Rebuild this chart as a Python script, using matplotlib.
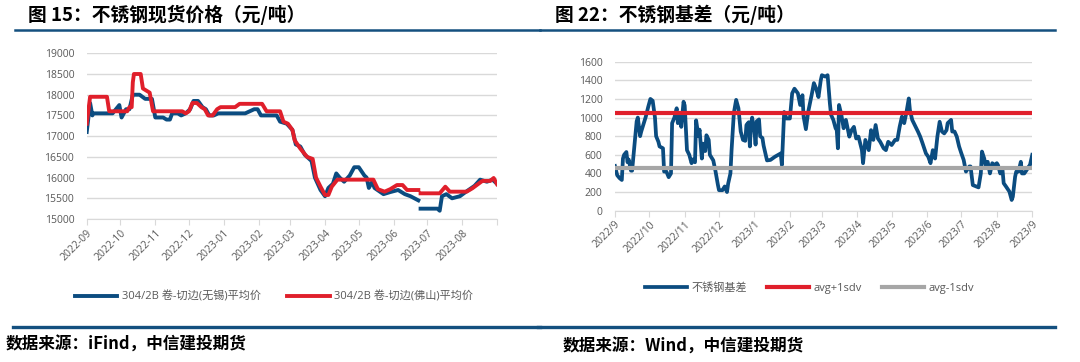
import numpy as np
import pandas as pd
import matplotlib
matplotlib.use("Agg")
import matplotlib.pyplot as plt
from matplotlib.lines import Line2D

plt.rcParams['font.family'] = ['Open Sans', 'Noto Sans CJK SC', 'DejaVu Sans']

nan = np.nan
start = pd.Timestamp('2022-09-01')

# ---- 不锈钢现货价格 (day offset from 2022-09-01, yuan/t) ----
wx_days = [0, 3, 5, 6, 23, 26, 29, 31, 35, 38,
           41, 47, 52, 58, 61, 68, 71, 74, 76, 81,
           84, 88, 92, 95, 99, 103, 106, 109, 113, 117,
           141, 145, 149, 152, 155, 169, 172, 178, 183, 186,
           190, 194, 200, 203, 208, 212, 215, 219, 222, 225,
           229, 234, 238, 242, 247, 249, 251, 254, 256, 264,
           270, 277, 283, 288, 295, 296, 297, 312, 314, 316,
           320, 325, 332, 337, 345, 350, 356, 361, 363, 365]
wx_vals = [17100, 17800, 17500, 17550, 17550, 17650, 17750, 17450, 17650, 17650,
           18000, 18000, 17900, 17900, 17450, 17450, 17400, 17400, 17550, 17550,
           17500, 17550, 17650, 17850, 17850, 17700, 17650, 17500, 17500, 17550,
           17550, 17600, 17650, 17650, 17500, 17500, 17350, 17300, 17150, 16800,
           16750, 16550, 16400, 16000, 15700, 15550, 15750, 15850, 16100, 16000,
           15900, 16050, 16250, 16250, 16050, 16000, 15750, 15900, 15750, 15600,
           15650, 15700, 15600, 15550, 15450, nan, 15250, 15250, 15200, 15550,
           15600, 15500, 15550, 15650, 15800, 15950, 15900, 15950, 15900, 15850]

fs_days = [0, 3, 18, 20, 36, 38, 40, 41, 42, 48,
           50, 53, 56, 59, 85, 88, 91, 94, 98, 102,
           105, 108, 112, 116, 119, 132, 136, 156, 160, 172,
           175, 179, 183, 185, 190, 196, 201, 204, 208, 212,
           215, 218, 223, 255, 259, 265, 270, 276, 281, 285,
           295, 296, 297, 314, 319, 323, 338, 343, 347, 352,
           359, 362, 365]
fs_vals = [17300, 17950, 17950, 17600, 17600, 17700, 17700, 18300, 18500, 18500,
           18150, 18100, 18050, 17600, 17600, 17550, 17600, 17800, 17800, 17700,
           17650, 17500, 17500, 17650, 17700, 17700, 17780, 17780, 17600, 17600,
           17350, 17300, 17150, 16900, 16700, 16500, 16450, 16000, 15780, 15580,
           15580, 15780, 15950, 15950, 15720, 15660, 15720, 15820, 15820, 15700,
           15700, nan, 15620, 15620, 15780, 15660, 15660, 15740, 15820, 15920,
           15920, 15990, 15840]

# ---- 不锈钢基差 (day offset from 2022-09-01) ----
jc_days = [0, 2, 4, 6, 7, 8, 10, 11, 12, 14,
           15, 17, 19, 20, 22, 23, 25, 27, 29, 31,
           33, 35, 36, 38, 39, 42, 43, 45, 47, 49,
           50, 52, 54, 55, 57, 58, 60, 61, 63, 65,
           67, 68, 70, 71, 73, 74, 76, 77, 79, 80,
           82, 83, 86, 88, 90, 91, 94, 96, 98, 99,
           101, 102, 104, 106, 108, 110, 112, 114, 115, 117,
           118, 119, 120, 122, 123, 124, 126, 127, 129, 130,
           133, 136, 140, 145, 146, 148, 150, 153, 155, 157,
           160, 162, 164, 165, 167, 169, 172, 174, 176, 178,
           180, 181, 184, 186, 188, 189, 191, 193, 194, 195,
           196, 198, 200, 202, 205, 207, 209, 211, 213, 216,
           217, 219, 222, 224, 226, 228, 230, 232, 235, 237,
           239, 242, 245, 247, 249, 251, 253, 255, 257, 258,
           260, 263, 265, 267, 269, 272, 274, 276, 278, 280,
           282, 284, 286, 288, 290, 291, 294, 295, 297, 299,
           301, 303, 305, 307, 310, 311, 313, 316, 318, 320,
           321, 323, 324, 326, 328, 330, 332, 334, 335, 337,
           339, 340, 342, 345, 347, 348, 350, 351, 353, 355,
           356, 358, 360, 362, 363, 365]
jc_vals = [480, 380, 350, 330, 560, 600, 630, 520, 550, 430,
           430, 700, 960, 1000, 800, 850, 930, 1010, 1110, 1200,
           1180, 1000, 800, 740, 690, 670, 420, 420, 360, 400,
           940, 1000, 1100, 940, 1050, 900, 1170, 1130, 650, 600,
           510, 550, 520, 970, 800, 870, 560, 720, 640, 810,
           760, 600, 540, 420, 280, 220, 220, 260, 200, 290,
           400, 650, 1050, 1190, 1100, 850, 760, 750, 920, 950,
           690, 920, 1000, 850, 710, 960, 980, 800, 780, 700,
           540, 545, 580, 615, 490, 1060, 990, 990, 1260, 1310,
           1260, 1135, 1240, 1010, 875, 1060, 1240, 1370, 1310, 1220,
           1400, 1455, 1440, 1455, 1150, 1030, 975, 885, 865, 670,
           1135, 1030, 885, 975, 795, 865, 900, 775, 795, 650,
           510, 760, 650, 865, 760, 920, 775, 740, 670, 650,
           740, 705, 760, 760, 900, 1010, 940, 1060, 1205, 1080,
           975, 900, 850, 795, 725, 615, 580, 510, 650, 560,
           795, 955, 850, 830, 865, 940, 975, 850, 850, 795,
           690, 615, 545, 420, 475, 475, 275, 260, 250, 400,
           635, 560, 490, 525, 400, 510, 490, 510, 490, 400,
           435, 295, 260, 205, 115, 150, 365, 420, 420, 525,
           400, 400, 435, 475, 490, 600]
avg_plus = 1045
avg_minus = 455


def to_dates(days):
    return start + pd.to_timedelta(days, unit='D')


BLUE = '#0B4C80'
RED = '#E01F2B'
GREY = '#A6A6A6'
TXT = '#595959'
GRID = '#D9D9D9'
NAVY = '#14507F'

fig = plt.figure(figsize=(10.8, 3.62), dpi=100)

months = pd.date_range('2022-09-01', '2023-09-01', freq='MS')


def style_axes(ax):
    for s in ['left', 'right', 'top']:
        ax.spines[s].set_visible(False)
    ax.spines['bottom'].set_color(GRID)
    ax.grid(axis='y', color=GRID, linewidth=1.0)
    ax.set_axisbelow(True)
    ax.tick_params(axis='y', length=0, pad=9, labelsize=7.5, labelcolor=TXT)
    ax.tick_params(axis='x', length=4, color=GRID, labelsize=7.5,
                   labelcolor=TXT, pad=2)
    ax.set_xlim(months[0], months[-1])
    ax.set_xticks(months)


# ---------------- left panel ----------------
ax1 = fig.add_axes([0.0803, 0.395, 0.3799, 0.4578])
ax1.plot(to_dates(wx_days), wx_vals, color=BLUE, lw=2.8,
         label='304/2B 卷-切边(无锡)平均价')
ax1.plot(to_dates(fs_days), fs_vals, color=RED, lw=2.8,
         label='304/2B 卷-切边(佛山)平均价')
style_axes(ax1)
ax1.set_ylim(15000, 19000)
ax1.set_yticks(np.arange(15000, 19001, 500))
ax1.set_xticklabels([m.strftime('%Y-%m') for m in months[:-1]] + [''],
                    rotation=45, ha='right', rotation_mode='anchor')
ax1.legend(loc='center', bbox_to_anchor=(0.2537, 0.18), bbox_transform=fig.transFigure,
           ncol=2, frameon=False, fontsize=8, labelcolor=TXT,
           handlelength=3.8, handletextpad=0.4, columnspacing=2.4)

# ---------------- right panel ----------------
ax2 = fig.add_axes([0.5694, 0.418, 0.3864, 0.4116])
ax2.plot(to_dates(jc_days), jc_vals, color=BLUE, lw=2.7, label='不锈钢基差')
ax2.plot([months[0], months[-1]], [avg_plus, avg_plus], color=RED, lw=3.0,
         label='avg+1sdv')
ax2.plot([months[0], months[-1]], [avg_minus, avg_minus], color=GREY, lw=3.0,
         label='avg-1sdv')
style_axes(ax2)
ax2.set_ylim(0, 1600)
ax2.set_yticks(np.arange(0, 1601, 200))
ax2.set_xticklabels([f'{m.year}/{m.month}' for m in months],
                    rotation=45, ha='right', rotation_mode='anchor')
ax2.legend(loc='center', bbox_to_anchor=(0.7495, 0.204), bbox_transform=fig.transFigure,
           ncol=3, frameon=False, fontsize=8, labelcolor=TXT,
           handlelength=3.8, handletextpad=0.4, columnspacing=1.8)

# ---------------- titles, rules, sources ----------------
cjk = ['Noto Sans CJK SC', 'DejaVu Sans']
fig.text(0.026, 0.958, '图 15：不锈钢现货价格（元/吨）', family=cjk,
         fontsize=13.5, fontweight='bold', va='center', ha='left')
fig.text(0.514, 0.958, '图 22：不锈钢基差（元/吨）', family=cjk,
         fontsize=13.5, fontweight='bold', va='center', ha='left')

for x0, x1 in [(0.014, 0.5), (0.5, 0.977)]:
    fig.add_artist(Line2D([x0, x1], [0.917, 0.917], color=NAVY, lw=1.8,
                          transform=fig.transFigure))
    fig.add_artist(Line2D([x0 - 0.002, x1], [0.097, 0.097], color=NAVY, lw=2.4,
                          transform=fig.transFigure))

fig.text(0.005, 0.047, '数据来源：iFind，中信建投期货', family=cjk,
         fontsize=12, fontweight='bold', style='italic', va='center', ha='left')
fig.text(0.521, 0.043, '数据来源：Wind，中信建投期货', family=cjk,
         fontsize=12, fontweight='bold', style='italic', va='center', ha='left')

fig.savefig('out.png', dpi=100)
